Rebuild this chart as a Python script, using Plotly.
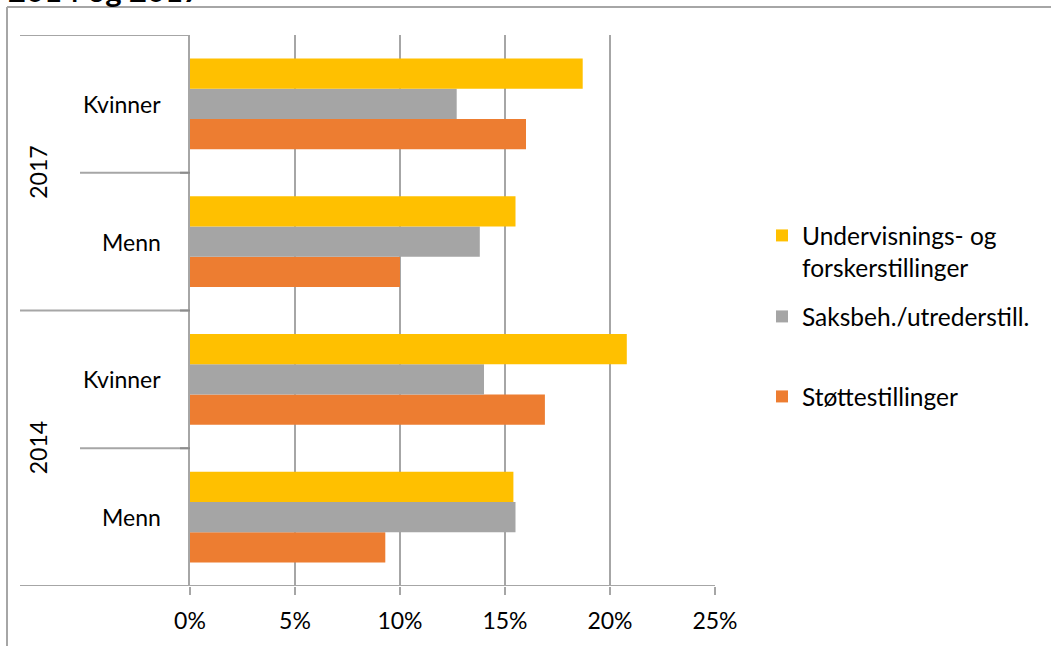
import plotly.graph_objects as go

# ---- data (percent) ----
years = ["2014", "2014", "2017", "2017"]
genders = ["Menn", "Kvinner", "Menn", "Kvinner"]
undervisning = [15.4, 20.8, 15.5, 18.7]
saksbeh = [15.5, 14.0, 13.8, 12.7]
stotte = [9.3, 16.9, 10.0, 16.0]
series_names = ["Undervisnings- og<br>forskerstillinger", "Saksbeh./utrederstill.", "Støttestillinger"]
colors = ["#FFC000", "#A5A5A5", "#ED7D31"]
x_ticks = [0, 5, 10, 15, 20, 25]
x_ticktext = [f"{v}%" for v in x_ticks]

cats = [f"{y} {g}" for y, g in zip(years, genders)]
FONT = "Lato"
GRID = "#A6A6A6"
W, H = 1051, 646
L, R, T, B = 190, 715, 35, 586

fig = go.Figure()
# add bottom-most bar first (orange), top-most last (yellow)
for vals, name, col, lg in [
    (stotte, series_names[2], colors[2], "legend3"),
    (saksbeh, series_names[1], colors[1], "legend2"),
    (undervisning, series_names[0], colors[0], "legend"),
]:
    fig.add_trace(go.Bar(x=vals, y=cats, orientation="h", name=name, showlegend=True,
                         marker=dict(color=col, line=dict(width=0)), legend=lg))

shapes = []
def px_x(p):
    return (p - L) / (R - L)
def px_y(p):
    return (B - p) / (B - T)

# category divider lines
for yv, x0 in [(-0.5, px_x(20)), (1.5, px_x(20)), (3.5, px_x(20)), (0.5, px_x(80)), (2.5, px_x(80))]:
    x1 = 1 if yv == -0.5 else 0
    shapes.append(dict(type="line", xref="paper", yref="y", x0=x0, x1=x1, y0=yv, y1=yv,
                       line=dict(color=GRID, width=2)))
# small dark tick marks at the divider ends
for yv in [0.5, 1.5, 2.5]:
    shapes.append(dict(type="line", xref="paper", yref="y", x0=px_x(180), x1=0, y0=yv, y1=yv,
                       line=dict(color="#8C8C8C", width=2)))
# outer frame (left and top)
shapes.append(dict(type="line", xref="paper", yref="paper", x0=px_x(7), x1=px_x(7),
                   y0=px_y(700), y1=px_y(7), line=dict(color=GRID, width=2)))
shapes.append(dict(type="line", xref="paper", yref="paper", x0=px_x(7), x1=px_x(1100),
                   y0=px_y(7), y1=px_y(7), line=dict(color=GRID, width=2)))

annotations = []
for c, g in zip(cats, genders):
    annotations.append(dict(x=0, xref="paper", y=c, yref="y", text=g, showarrow=False,
                            xanchor="right", xshift=-27, font=dict(family=FONT, size=23, color="#000")))
for yr, yc in [("2014", 0.5), ("2017", 2.5)]:
    annotations.append(dict(x=0, xref="paper", y=yc, yref="y", text=yr, showarrow=False,
                            textangle=-90, xanchor="center", xshift=-152,
                            font=dict(family=FONT, size=23, color="#000")))
annotations.append(dict(x=px_x(6), xref="paper", y=px_y(11.5), yref="paper", text="<b>2014 og 2017</b>",
                        showarrow=False, xanchor="left", yanchor="bottom",
                        font=dict(family=FONT, size=31, color="#000")))

legend_common = dict(xref="container", yref="container", xanchor="left", yanchor="top",
                     bgcolor="rgba(0,0,0,0)", font=dict(family=FONT, size=24.5, color="#000"),
                     valign="top", borderwidth=0)

fig.update_layout(
    width=W, height=H,
    margin=dict(l=L, r=W - R, t=T, b=H - B),
    paper_bgcolor="white", plot_bgcolor="white",
    barmode="group", bargap=0.34, bargroupgap=0,
    showlegend=True,
    font=dict(family=FONT, size=23, color="#000"),
    xaxis=dict(range=[0, 25], tickvals=x_ticks, ticktext=x_ticktext, showgrid=True,
               gridcolor=GRID, gridwidth=2, zeroline=False, showline=False,
               ticks="outside", ticklen=8, tickcolor=GRID, tickwidth=2,
               ticklabelstandoff=6, tickfont=dict(family=FONT, size=23, color="#000"),
               fixedrange=True),
    yaxis=dict(categoryorder="array", categoryarray=cats, showticklabels=False,
               showgrid=False, zeroline=False, showline=True, linecolor=GRID, linewidth=2,
               ticks="", range=[-0.5, 3.5]),
    legend=dict(x=762 / W, y=1 - 213 / H, **legend_common),
    legend2=dict(x=762 / W, y=1 - 294 / H, **legend_common),
    legend3=dict(x=762 / W, y=1 - 374 / H, **legend_common),
    shapes=shapes, annotations=annotations,
)

fig.write_html("out.html", config={"displayModeBar": False},
               post_script="document.body.style.margin='0';")
